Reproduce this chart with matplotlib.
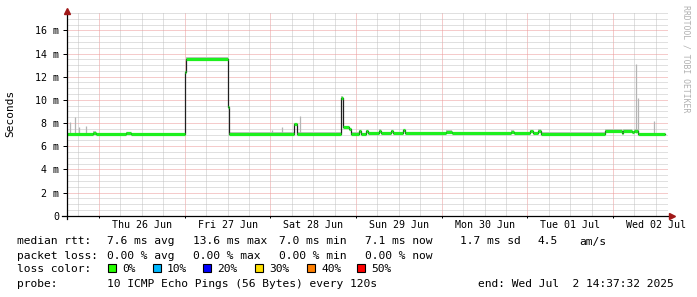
import matplotlib
matplotlib.use("Agg")
import matplotlib.pyplot as plt
import matplotlib.dates as mdates
from matplotlib.ticker import MultipleLocator, FuncFormatter, NullFormatter
from matplotlib.patches import Rectangle
import pandas as pd

# median rtt (ms), step values, 2025
median_times = ["06-25 15:02", "06-25 22:19", "06-25 23:10", "06-26 07:34", "06-26 08:58",
                "06-27 00:05", "06-27 00:22", "06-27 12:08", "06-27 12:25", "06-28 06:38",
                "06-28 07:28", "06-28 19:47", "06-28 20:13", "06-28 22:02", "06-28 22:42",
                "06-29 00:50", "06-29 01:23", "06-29 02:47", "06-29 03:21", "06-29 06:25",
                "06-29 06:58", "06-29 09:47", "06-29 10:21", "06-29 13:09", "06-29 13:43",
                "06-30 01:12", "06-30 02:53", "06-30 19:25", "06-30 20:16", "07-01 00:44",
                "07-01 01:35", "07-01 02:59", "07-01 03:49", "07-01 21:45", "07-02 02:31",
                "07-02 02:48", "07-02 05:19", "07-02 05:53", "07-02 07:00", "07-02 14:37"]
median_ms = [7.05, 7.15, 7.05, 7.12, 7.05,
             12.4, 13.55, 9.4, 7.08, 7.9,
             7.08, 10.2, 7.65, 7.45, 7.08,
             7.3, 7.05, 7.3, 7.1, 7.35,
             7.1, 7.3, 7.1, 7.4, 7.1,
             7.25, 7.1, 7.25, 7.1, 7.3,
             7.1, 7.35, 7.08, 7.35, 7.15,
             7.35, 7.2, 7.35, 7.05, 7.05]

# smoke spikes (single slow pings)
spike_times = ["06-25 15:50", "06-25 17:14", "06-25 18:22", "06-25 20:22", "06-28 00:28",
               "06-28 03:16", "06-28 08:18", "07-02 06:26", "07-02 07:00", "07-02 11:29"]
spike_ms = [8.1, 8.5, 7.7, 7.75, 7.4, 7.7, 8.6, 13.1, 10.2, 8.2]
spike_base = 7.1
smoke_spread = 0.12

loss_labels = ["0%", "10%", "20%", "30%", "40%", "50%"]
loss_colors = ["#26ff00", "#00b8ff", "#0000ff", "#ffe000", "#ff7f00", "#ff0000"]

t_start = pd.Timestamp("2025-06-25 15:02")
t_end = pd.Timestamp("2025-07-02 15:24")


def to_ts(lst):
    return pd.to_datetime(["2025-" + s for s in lst])


mt = to_ts(median_times)
st = to_ts(spike_times)

W, H = 697, 297
fig = plt.figure(figsize=(W / 100, H / 100), dpi=100)
fig.patch.set_facecolor("white")
ax = fig.add_axes([67 / W, (H - 215.7) / H, (668 - 67) / W, (215.7 - 13) / H])
ax.set_facecolor("white")
for s in ax.spines.values():
    s.set_visible(False)

mono = "DejaVu Sans Mono"

# grid
ax.set_xlim(t_start, t_end)
ax.set_ylim(0, 17.5)
ax.xaxis.set_major_locator(mdates.DayLocator())
ax.xaxis.set_minor_locator(mdates.HourLocator(byhour=[0, 6, 12, 18]))
ax.xaxis.set_major_formatter(NullFormatter())
ax.xaxis.set_minor_formatter(FuncFormatter(
    lambda v, p: mdates.num2date(v).strftime("%a %d %b") if mdates.num2date(v).hour == 12 else ""))
ax.yaxis.set_major_locator(MultipleLocator(2))
ax.yaxis.set_minor_locator(MultipleLocator(0.5))
ax.yaxis.set_major_formatter(FuncFormatter(lambda v, p: "0" if v == 0 else "%d m" % v))
ax.set_axisbelow(True)
ax.grid(which="minor", color="#c2c2c2", linestyle=(0, (1, 1)), linewidth=0.72)
ax.grid(which="major", color="#ec9898", linestyle=(0, (1, 1)), linewidth=0.72)

ax.tick_params(axis="y", which="major", length=3, width=0.72, pad=2.5, labelsize=7.2, labelfontfamily=mono)
ax.tick_params(axis="y", which="minor", length=0)
ax.tick_params(axis="x", which="major", length=1.5, width=0.72)
ax.tick_params(axis="x", which="minor", length=0, pad=3.0, labelsize=7.2, labelfontfamily=mono)

# smoke
ax.fill_between(mt, median_ms, [v + smoke_spread for v in median_ms], step="post",
                color="#c4c4c4", linewidth=0, zorder=2)
ax.vlines(st, spike_base, spike_ms, color="#b4b4b4", linewidth=0.9, zorder=2)

# median line: black steps, green segments for loss colour
ax.step(mt, median_ms, where="post", color="#202020", linewidth=0.9, zorder=3)
ax.hlines(median_ms[:-1], mt[:-1], mt[1:], color="#1ef01e", linewidth=2.3, zorder=4)

# axis lines with arrows
ax.plot([0, 0], [-0.016, 1.0], transform=ax.transAxes, color="black", lw=0.9, clip_on=False, zorder=5)
ax.plot([-0.008, 1.0], [0, 0], transform=ax.transAxes, color="black", lw=0.9, clip_on=False, zorder=5)
ax.plot([0], [1.012], transform=ax.transAxes, marker="^", color="#a01818", ms=4, clip_on=False, zorder=6)
ax.plot([1.007], [0], transform=ax.transAxes, marker=">", color="#a01818", ms=4, clip_on=False, zorder=6)

fig.text(10.5 / W, 1 - 113 / H, "Seconds", rotation=90, ha="center", va="center",
         family=mono, fontsize=8.0)
fig.text(686 / W, 1 - 59 / H, "RRDTOOL / TOBI OETIKER", rotation=270, ha="center", va="center",
         family=mono, fontsize=5.9, color="#b0b0b0")

TXT = 8.1


def line(y, items):
    for x, s in items:
        fig.text(x / W, 1 - y / H, s, family=mono, fontsize=TXT, ha="left", va="baseline")


line(244.5, [(16.7, "median rtt:"), (107.3, "7.6 ms avg"), (193.3, "13.6 ms max"),
             (279.3, "7.0 ms min"), (365, "7.1 ms now"), (460, "1.7 ms sd"),
             (537.3, "4.5"), (579, "am/s")])
line(258.6, [(16.7, "packet loss:"), (107.3, "0.00 % avg"), (193.3, "0.00 % max"),
             (279.3, "0.00 % min"), (365, "0.00 % now")])
line(272.4, [(16.7, "loss color:")])
box_x = [108.3, 152.7, 203.3, 255, 307.3, 356.7]
for bx, lab, col in zip(box_x, loss_labels, loss_colors):
    fig.patches.append(Rectangle((bx / W, 1 - 272 / H), 8 / W, 8 / H, transform=fig.transFigure,
                                 facecolor=col, edgecolor="black", linewidth=0.8))
    fig.text((bx + 14.3) / W, 1 - 272.4 / H, lab, family=mono, fontsize=TXT, ha="left", va="baseline")
line(286.6, [(16.7, "probe:"), (107.3, "10 ICMP Echo Pings (56 Bytes) every 120s"),
             (478.3, "end: Wed Jul  2 14:37:32 2025")])

fig.savefig("out.png", dpi=100)
